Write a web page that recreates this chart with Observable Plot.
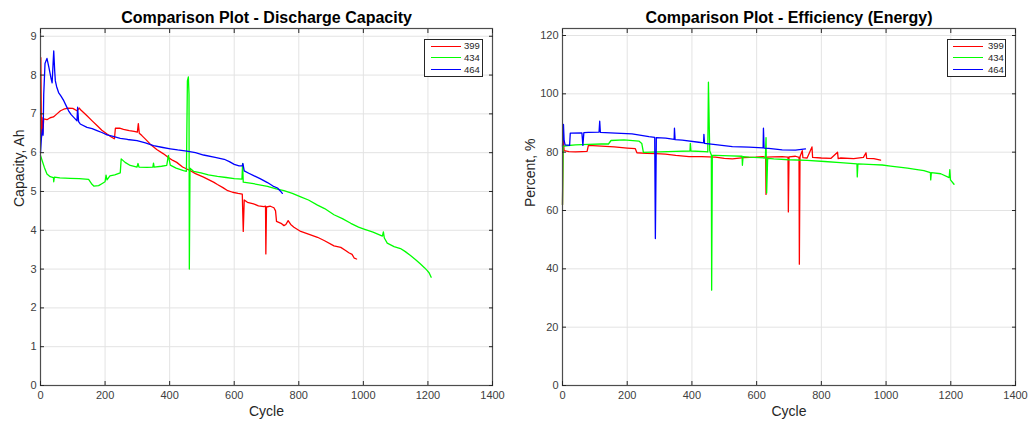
<!DOCTYPE html>
<html><head><meta charset="utf-8">
<script src="https://cdn.jsdelivr.net/npm/d3@7"></script>
<script src="https://cdn.jsdelivr.net/npm/@observablehq/plot@0.6"></script>
<style>
body{margin:0;background:#fff;}
#wrap{position:relative;width:1036px;height:421px;overflow:hidden;font-family:"Liberation Sans",Arial,sans-serif;background:#fff;}
.panel{position:absolute;top:0;}
.legend{position:absolute;background:#fff;border:1px solid #262626;box-sizing:border-box;width:59px;height:38px;}
.legend .ln{position:absolute;height:1px;width:30px;}
.legend .tx{position:absolute;font-size:9.5px;color:#262626;line-height:10px;}
</style></head>
<body><div id="wrap"></div>
<script>
const series = ["399", "434", "464"];
const seriesColors = ["#ff0000", "#00ff00", "#0000ff"];
const xTicks = [0, 200, 400, 600, 800, 1000, 1200, 1400];
const capTicks = [0, 1, 2, 3, 4, 5, 6, 7, 8, 9];
const effTicks = [0, 20, 40, 60, 80, 100, 120];

// Discharge capacity (Ah) vs cycle
const cap399 = [[1,8.45],[3,6.4],[5,6.9],[7,6.5],[10,6.87],[20,6.85],[30,6.9],[40,6.92],[51,7.0],[62,7.08],[72,7.12],[85,7.15],[100,7.14],[113,7.08],[120,7.15],[125,7.1],[135,7.02],[144,6.95],[160,6.82],[175,6.7],[190,6.58],[206,6.48],[218,6.41],[226,6.37],[229,6.36],[232,6.63],[245,6.63],[257,6.6],[275,6.57],[290,6.55],[300,6.53],[303,6.75],[306,6.5],[314,6.44],[325,6.35],[340,6.22],[360,6.08],[381,5.97],[395,5.88],[410,5.8],[422,5.75],[440,5.63],[463,5.54],[480,5.46],[505,5.37],[536,5.24],[548,5.18],[565,5.1],[580,5.02],[595,4.98],[612,4.95],[625,4.93],[628,3.97],[631,4.78],[641,4.72],[660,4.68],[675,4.63],[692,4.61],[697,4.62],[698,3.39],[700,4.6],[712,4.62],[723,4.58],[728,4.5],[731,4.23],[745,4.18],[754,4.12],[760,4.15],[767,4.25],[775,4.15],[785,4.08],[806,3.97],[830,3.9],[858,3.82],[880,3.73],[909,3.6],[930,3.56],[945,3.48],[955,3.42],[965,3.38],[972,3.28],[979,3.26]];
const cap434 = [[0,5.93],[5,5.8],[12,5.62],[20,5.45],[30,5.38],[40,5.36],[41,5.25],[43,5.37],[60,5.35],[92,5.34],[120,5.33],[149,5.31],[158,5.2],[165,5.14],[180,5.15],[190,5.2],[200,5.25],[203,5.42],[206,5.3],[215,5.4],[230,5.43],[247,5.48],[250,5.84],[262,5.75],[278,5.67],[299,5.63],[302,5.72],[305,5.63],[330,5.62],[348,5.63],[350,5.73],[352,5.63],[375,5.65],[391,5.67],[396,5.93],[402,5.68],[420,5.6],[443,5.54],[452,5.52],[455,7.85],[458,7.95],[460,7.5],[461,3.0],[463,5.6],[474,5.52],[497,5.48],[520,5.43],[548,5.39],[575,5.36],[600,5.33],[624,5.32],[626,5.72],[628,5.24],[660,5.2],[703,5.13],[730,5.07],[754,5.02],[780,4.95],[806,4.86],[830,4.78],[858,4.65],[880,4.56],[909,4.4],[935,4.3],[961,4.18],[985,4.08],[1002,4.03],[1030,3.95],[1059,3.85],[1062,3.96],[1065,3.8],[1074,3.67],[1095,3.58],[1115,3.53],[1130,3.45],[1146,3.35],[1162,3.24],[1177,3.13],[1190,3.03],[1198,2.96],[1204,2.9],[1210,2.79]];
const cap464 = [[0,6.0],[3,6.4],[6,6.6],[8,6.45],[10,7.5],[14,8.3],[20,8.43],[26,8.2],[33,7.9],[36,7.8],[39,8.3],[41,8.62],[44,8.1],[46,7.85],[50,7.7],[56,7.55],[64,7.45],[72,7.34],[80,7.2],[87,7.08],[95,6.98],[103,6.91],[113,6.82],[115,7.17],[118,6.8],[123,6.74],[144,6.65],[160,6.62],[175,6.57],[190,6.52],[206,6.46],[225,6.42],[247,6.37],[270,6.34],[299,6.31],[325,6.25],[350,6.18],[375,6.14],[402,6.1],[425,6.07],[453,6.04],[480,6.0],[505,5.94],[541,5.88],[569,5.83],[585,5.77],[600,5.7],[615,5.66],[625,5.66],[627,5.72],[631,5.53],[645,5.47],[662,5.4],[680,5.33],[703,5.23],[720,5.14],[734,5.09],[742,5.02],[749,4.95]];

// Energy efficiency (%) vs cycle
const eff399 = [[0,62],[2,85],[5,80.5],[20,80.2],[40,80.1],[60,80.2],[76,80.3],[80,82.3],[120,82.1],[160,81.8],[200,81.4],[225,81.2],[230,79.8],[260,79.6],[290,79.5],[318,79.3],[350,78.9],[391,78.5],[430,78.5],[473,78.3],[500,77.9],[525,77.7],[560,78.1],[597,78.3],[620,78.5],[628,78.2],[629,65.5],[631,78.3],[650,78.4],[679,78.5],[697,78.3],[698,59.5],[700,78.4],[720,78.6],[731,78.2],[732,41.6],[734,78.4],[741,80.5],[743,78.1],[756,78.0],[771,81.8],[773,78.2],[800,78.0],[830,77.9],[850,80.0],[852,77.8],[860,78.0],[900,77.8],[930,78.2],[938,79.8],[940,77.9],[962,77.8],[983,77.3]];
const eff434 = [[0,62],[2,82],[10,82.2],[40,82.5],[80,82.7],[120,82.8],[142,82.8],[150,84.0],[190,84.2],[236,83.8],[245,83],[250,79.9],[300,80.1],[350,80.3],[394,80.4],[395,83],[397,80.4],[440,80.2],[449,80.1],[451,104],[455,80.5],[460,79],[461,32.7],[463,78.9],[473,78.9],[520,78.7],[555,78.6],[556,75.5],[558,78.5],[576,78.3],[627,78.0],[629,85],[631,66],[634,77.9],[653,77.7],[700,77.4],[756,77.2],[810,76.8],[859,76.4],[910,76.0],[911,71.5],[913,76],[962,75.7],[988,75.6],[1014,75.2],[1066,74.5],[1091,74.1],[1117,73.7],[1137,73.0],[1138,70.5],[1140,73],[1169,72.6],[1195,71.3],[1197,74],[1199,70.5],[1210,69]];
const eff464 = [[0,82],[3,89.5],[5,84],[8,82.5],[22,82.3],[24,86.5],[60,86.6],[63,82.3],[66,86.7],[80,86.8],[113,86.9],[115,90.6],[117,86.8],[164,86.5],[215,86.3],[267,85.3],[285,85.1],[287,50.4],[290,85],[319,84.8],[345,84.4],[346,88.2],[348,84.3],[370,84.1],[421,83.4],[436,83.2],[437,86.1],[439,83],[473,82.6],[525,81.9],[576,81.7],[620,81.5],[621,88.2],[623,81.4],[637,81.3],[679,80.8],[720,80.7],[751,81.1]];

function rows(pairs, s) { return pairs.map(([cycle, value]) => ({series: s, cycle, value})); }
const capData = [...rows(cap399, "399"), ...rows(cap434, "434"), ...rows(cap464, "464")];
const effData = [...rows(eff399, "399"), ...rows(eff434, "434"), ...rows(eff464, "464")];

const FONT = "Liberation Sans, Arial, Helvetica, sans-serif";
const AXIS = "#262626";

function panel({data, yDomain, yTicks, title, ylabel, ml, mr, ylabelDx}) {
  return Plot.plot({
    width: 518, height: 421,
    marginTop: 28, marginBottom: 36, marginLeft: ml, marginRight: mr,
    style: {fontFamily: FONT, fontSize: "11px", color: AXIS, background: "#fff", overflow: "visible"},
    x: {domain: [0, 1400]},
    y: {domain: yDomain},
    color: {domain: series, range: seriesColors},
    marks: [
      Plot.gridX({ticks: xTicks, stroke: "#e3e3e3", strokeOpacity: 1}),
      Plot.gridY({ticks: yTicks, stroke: "#e3e3e3", strokeOpacity: 1}),
      Plot.line(data, {x: "cycle", y: "value", z: "series", stroke: "series", strokeWidth: 1.3}),
      Plot.frame({stroke: "#4d4d4d", strokeWidth: 1.2}),
      Plot.axisX({anchor: "bottom", ticks: xTicks, tickSize: -4, tickPadding: 10, tickFormat: d => String(d), label: null, fill: "#404040"}),
      Plot.axisX({anchor: "top", ticks: xTicks, tickSize: -4, tickFormat: () => "", label: null}),
      Plot.axisY({anchor: "left", ticks: yTicks, tickSize: -4, tickPadding: 8, tickFormat: d => String(d), label: null, fill: "#404040"}),
      Plot.axisY({anchor: "right", ticks: yTicks, tickSize: -4, tickFormat: () => "", label: null}),
      Plot.text([title], {text: d => d, frameAnchor: "top", dy: -17, fontSize: 16, fontWeight: "bold", fill: "#000"}),
      Plot.text(["Cycle"], {text: d => d, frameAnchor: "bottom", dy: 30, fontSize: 14, fill: "#262626"}),
      Plot.text([ylabel], {text: d => d, frameAnchor: "left", rotate: -90, dx: ylabelDx, fontSize: 14, fill: "#262626"})
    ]
  });
}

const wrap = document.getElementById("wrap");
const left = panel({data: capData, yDomain: [0, 9.2], yTicks: capTicks, title: "Comparison Plot - Discharge Capacity", ylabel: "Capacity, Ah", ml: 40, mr: 26, ylabelDx: -21});
left.classList.add("panel"); left.style.left = "0px";
const right = panel({data: effData, yDomain: [0, 122.4], yTicks: effTicks, title: "Comparison Plot - Efficiency (Energy)", ylabel: "Percent, %", ml: 44, mr: 21, ylabelDx: -32});
right.classList.add("panel"); right.style.left = "518px";
wrap.appendChild(left); wrap.appendChild(right);

function legend(leftPx, lineOff, textOff) {
  const box = document.createElement("div");
  box.className = "legend";
  box.style.left = leftPx + "px"; box.style.top = "39px";
  series.forEach((s, i) => {
    const yc = 6 + i * 11.8;
    const ln = document.createElement("div");
    ln.className = "ln"; ln.style.background = seriesColors[i];
    ln.style.left = lineOff + "px"; ln.style.top = (yc - 0.5) + "px";
    const tx = document.createElement("div");
    tx.className = "tx"; tx.textContent = s;
    tx.style.left = textOff + "px"; tx.style.top = (yc - 5) + "px";
    box.appendChild(ln); box.appendChild(tx);
  });
  wrap.appendChild(box);
}
legend(424, 6, 39);
legend(947, 5, 40);
</script></body></html>
